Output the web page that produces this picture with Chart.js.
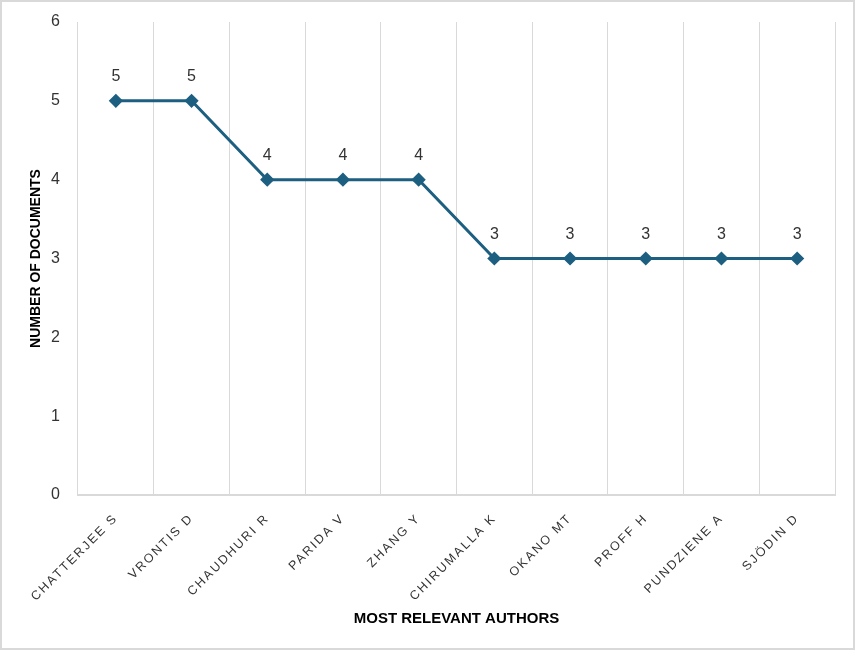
<!DOCTYPE html>
<html>
<head>
<meta charset="utf-8">
<script src="https://cdn.jsdelivr.net/npm/chart.js@4.4.1/dist/chart.umd.min.js"></script>
<style>
  html, body { margin: 0; padding: 0; background: #fff; }
  #wrap { position: relative; width: 855px; height: 650px; }
  #frame { position: absolute; left: 0; top: 0; right: 0; bottom: 0; border: 2px solid #d9d9d9; pointer-events: none; }
</style>
</head>
<body>
<div id="wrap">
  <canvas id="authorsChart" width="855" height="650"></canvas>
  <div id="frame"></div>
</div>
<script>
const authors = ['CHATTERJEE S', 'VRONTIS D', 'CHAUDHURI R', 'PARIDA V', 'ZHANG Y',
                 'CHIRUMALLA K', 'OKANO MT', 'PROFF H', 'PUNDZIENE A', 'SJÖDIN D'];
const docCounts = [5, 5, 4, 4, 4, 3, 3, 3, 3, 3];
const yTicks = [0, 1, 2, 3, 4, 5, 6];

const LINE_COLOR = '#1c5f80';
const TEXT_COLOR = '#333333';
const GRID_COLOR = '#d9d9d9';
const FONT = '"Liberation Sans", Arial, sans-serif';

// value labels above each point
const pointLabels = {
    id: 'pointLabels',
    afterDatasetsDraw(chart) {
        const ctx = chart.ctx;
        const meta = chart.getDatasetMeta(0);
        ctx.save();
        ctx.font = '16px ' + FONT;
        ctx.fillStyle = TEXT_COLOR;
        ctx.textAlign = 'center';
        ctx.textBaseline = 'middle';
        meta.data.forEach((pt, i) => {
            ctx.fillText(String(docCounts[i]), pt.x, pt.y - 24);
        });
        ctx.restore();
    }
};

// spaced-out category labels
const spacedLabels = {
    id: 'spacedLabels',
    beforeDraw(chart) {
        const s = chart.scales.x;
        if (s._spaced) return;
        const orig = s.drawLabels.bind(s);
        s.drawLabels = (area) => {
            chart.ctx.save();
            chart.ctx.letterSpacing = '2px';
            orig(area);
            chart.ctx.restore();
        };
        s._spaced = true;
    }
};

window.onload = () => {
    const ctx = document.getElementById('authorsChart').getContext('2d');
    new Chart(ctx, {
        type: 'line',
        data: {
            labels: authors,
            datasets: [{
                data: docCounts,
                borderColor: LINE_COLOR,
                backgroundColor: LINE_COLOR,
                borderWidth: 3,
                pointStyle: 'rectRot',
                pointRadius: 5,
                pointBackgroundColor: LINE_COLOR,
                pointBorderColor: LINE_COLOR,
                tension: 0,
                fill: false
            }]
        },
        plugins: [pointLabels, spacedLabels],
        options: {
            responsive: false,
            animation: false,
            layout: { padding: { left: 0, right: 20, top: 22, bottom: 0 } },
            plugins: { legend: { display: false }, tooltip: { enabled: false } },
            scales: {
                x: {
                    offset: true,
                    grid: { offset: true, color: GRID_COLOR, lineWidth: 1, drawTicks: false },
                    border: { display: true, color: GRID_COLOR, width: 2 },
                    ticks: {
                        autoSkip: false,
                        maxRotation: 45,
                        minRotation: 45,
                        padding: 16,
                        color: TEXT_COLOR,
                        font: { family: FONT, size: 12.5 }
                    },
                    title: {
                        display: true,
                        text: 'MOST RELEVANT AUTHORS',
                        color: '#000',
                        padding: { top: 0, bottom: 22 },
                        font: { family: FONT, size: 15, weight: 'bold' }
                    },
                    afterFit(scale) { scale.height = 155; }
                },
                y: {
                    min: 0,
                    max: 6,
                    afterBuildTicks(scale) { scale.ticks = yTicks.map(v => ({ value: v })); },
                    grid: { display: false, drawTicks: false },
                    border: { display: false },
                    ticks: {
                        padding: 18,
                        color: TEXT_COLOR,
                        font: { family: FONT, size: 16 }
                    },
                    title: {
                        display: true,
                        text: 'NUMBER OF DOCUMENTS',
                        color: '#000',
                        padding: { top: 28, bottom: 0 },
                        font: { family: FONT, size: 14, weight: 'bold' }
                    },
                    afterFit(scale) {
                        scale.width = 78;
                        scale.paddingTop = 0;
                        scale.paddingBottom = 0;
                    }
                }
            }
        }
    });
};
</script>
</body>
</html>
